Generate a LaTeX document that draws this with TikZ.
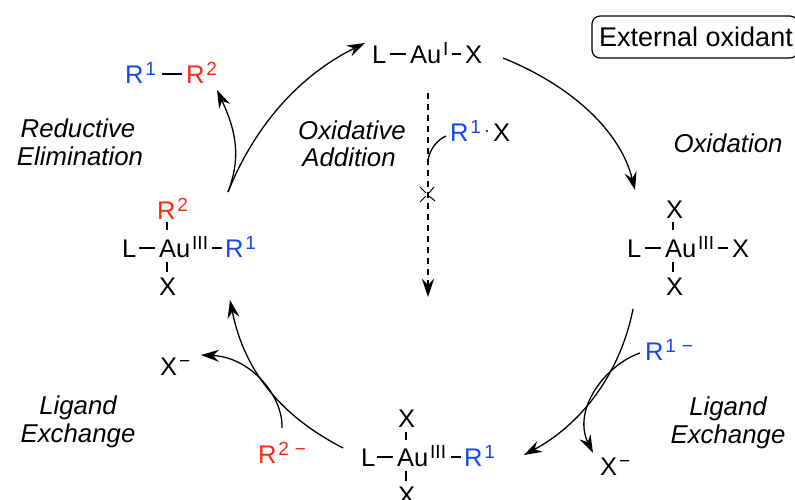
\documentclass[tikz,border=0pt]{standalone}
\usepackage{fontspec}
\setmainfont{Liberation Sans}
\usetikzlibrary{arrows.meta}
\definecolor{rblue}{RGB}{20,70,255}
\definecolor{rred}{RGB}{255,40,15}
\newcommand{\sps}[1]{\kern2pt\raisebox{8pt}{\fontsize{19}{19}\selectfont #1}}
\tikzset{
 atom/.style={anchor=base west,inner sep=0pt,outer sep=0pt,text height=18pt,text depth=0pt,font=\fontsize{25.5}{25.5}\selectfont},
 blue/.style={text=rblue},
 red/.style={text=rred},
 lab/.style={align=center,inner sep=0pt,anchor=base,font=\fontsize{25.8}{28}\selectfont\itshape},
 bond/.style={line width=1.4pt},
 arc/.style={line width=1.3pt,-{Stealth[length=18pt,width=12pt,inset=6pt]}},
 plain/.style={line width=1.3pt},
}
\begin{document}
\begin{tikzpicture}[x=1pt,y=-1pt]
\useasboundingbox (0,0) rectangle (795,499);
\clip (0,0) rectangle (795,499);
% top complex
\node[atom] (L1) at (372,63) {L};
\node[atom] (A1) at (410,63) {Au\sps{I}};
\node[atom] (X1) at (465,63) {X};
\draw[bond] ([xshift=4pt]L1.east) -- ([xshift=-4pt]A1.west);
\draw[bond] ([xshift=4pt]A1.east) -- ([xshift=-4pt]X1.west);
% product
\node[atom,blue] (P1) at (125,83) {R\sps{1}};
\node[atom,red] (P2) at (186,83) {R\sps{2}};
\draw[bond] ([xshift=6pt]P1.east) -- ([xshift=-4pt]P2.west);
% left complex
\node[atom] (L2) at (122,257) {L};
\node[atom] (A2) at (159,257) {Au\sps{III}};
\node[atom,blue] (B2) at (225,257) {R\sps{1}};
\node[atom,red] (T2) at (157,219) {R\sps{2}};
\node[atom] (X2) at (159,295) {X};
\draw[bond] ([xshift=3pt]L2.east) -- ([xshift=-4pt]A2.west);
\draw[bond] ([xshift=4pt]A2.east) -- ([xshift=-3pt]B2.west);
\draw[bond] (167,222) -- (167,230);
\draw[bond] (167,262) -- (167,272);
% right complex
\node[atom] (L3) at (627,257) {L};
\node[atom] (A3) at (665,257) {Au\sps{III}};
\node[atom] (B3) at (732,257) {X};
\node[atom] (T3) at (666,218) {X};
\node[atom] (X3) at (666,295) {X};
\draw[bond] ([xshift=4pt]L3.east) -- ([xshift=-4pt]A3.west);
\draw[bond] ([xshift=4pt]A3.east) -- ([xshift=-4pt]B3.west);
\draw[bond] (673,222) -- (673,230);
\draw[bond] (673,262) -- (673,272);
% bottom complex
\node[atom] (L4) at (361,466) {L};
\node[atom] (A4) at (397,466) {Au\sps{III}};
\node[atom,blue] (B4) at (464,466) {R\sps{1}};
\node[atom] (T4) at (398,427) {X};
\node[atom] (X4) at (398,504) {X};
\draw[bond] ([xshift=2pt]L4.east) -- ([xshift=-4pt]A4.west);
\draw[bond] ([xshift=5pt]A4.east) -- ([xshift=-3pt]B4.west);
\draw[bond] (406,432) -- (406,440);
\draw[bond] (406,471) -- (406,481);
% reagents
\node[atom,blue] (R1X) at (450,141) {R\sps{1}};
\node[atom] (XX) at (493,141) {X};
\fill (487,131) circle (1.2pt);
\node[atom,blue] (R1m) at (645,360) {R\sps{1}\kern4pt\sps{−}};
\node[atom,red] (R2m) at (258,463) {R\sps{2}\kern4pt\sps{−}};
\node[atom] (Xa) at (160,375) {X\sps{−}};
\node[atom] (Xb) at (600,475) {X\sps{−}};
% labels
\node[lab] (l1) at (352,139) {Oxidative};
\node[lab] (l1b) at (349,166) {Addition};
\node[lab] (l2) at (78,137) {Reductive};
\node[lab] (l2b) at (80,165) {Elimination};
\node[lab] (l3) at (728,152) {Oxidation};
\node[lab] (l4) at (78,414) {Ligand};
\node[lab] (l4b) at (78,442) {Exchange};
\node[lab] (l5) at (728,415) {Ligand};
\node[lab] (l5b) at (728,443) {Exchange};
\draw[rounded corners=8pt,line width=1.2pt] (592,16) rectangle (798,58);
\node[anchor=base west,inner sep=0pt,font=\fontsize{27}{27}\selectfont] (ext) at (599,46) {External oxidant};
% cycle arrows
\coordinate (a1) at (503,58); \coordinate (a2) at (635,190);
\coordinate (b1) at (633,309); \coordinate (b2) at (524,455);
\coordinate (c1) at (343,448); \coordinate (c2) at (230,300);
\coordinate (d1) at (228,192); \coordinate (d2) at (365,43);
\draw[arc] (a1) .. controls (570,85) and (620,130) .. (a2);
\draw[arc] (b1) .. controls (620,375) and (580,425) .. (b2);
\draw[arc] (c1) .. controls (285,418) and (245,375) .. (c2);
\draw[arc] (d1) .. controls (255,125) and (300,75) .. (d2);
% side arrows
\coordinate (e1) at (640,353); \coordinate (e2) at (593,453);
\coordinate (f1) at (282,428); \coordinate (f2) at (201,355);
\coordinate (g1) at (228,192); \coordinate (g2) at (217,90);
\draw[arc] (e1) .. controls (605,365) and (572,410) .. (e2);
\draw[arc] (f1) .. controls (283,395) and (250,357) .. (f2);
\draw[arc] (g1) .. controls (240,160) and (238,135) .. (g2);
% oxidative addition (blocked)
\coordinate (h1) at (428,93); \coordinate (h2) at (428,297);
\draw[line width=1.1pt,dash pattern=on 6pt off 5pt] (h1) -- ([yshift=14pt]h2);
\draw[arc] ([yshift=16pt]h2) -- (h2);
\coordinate (i1) at (428,160); \coordinate (i2) at (446,136);
\draw[plain] (i1) .. controls (430,149) and (437,140) .. (i2);
\draw[line width=1pt] (420,187) -- (426,193) (434,187) -- (429,193) (429,196) -- (435,201) (426,196) -- (420,202);
\end{tikzpicture}
\end{document}
